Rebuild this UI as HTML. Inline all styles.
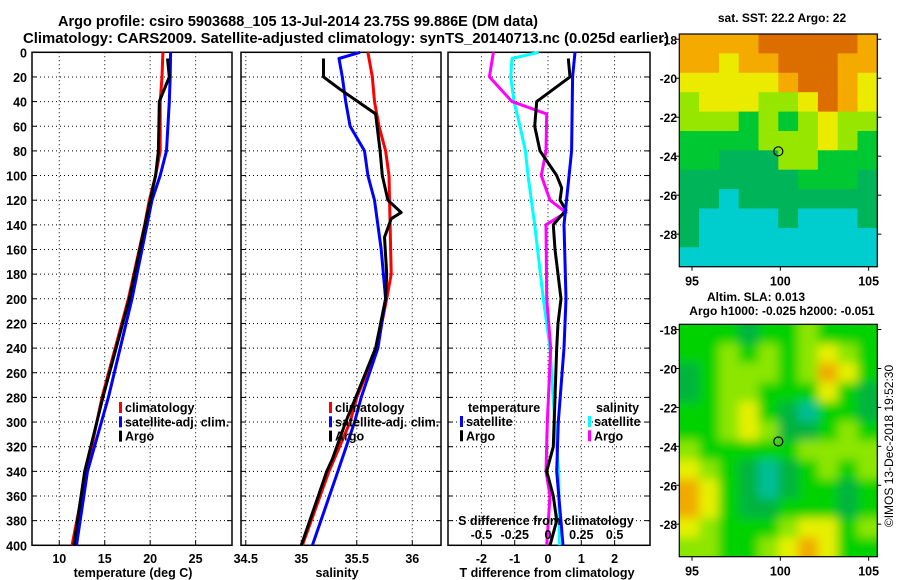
<!DOCTYPE html>
<html><head><meta charset="utf-8"><style>
html,body{margin:0;padding:0;background:#fff;}
svg{display:block;font-family:"Liberation Sans",sans-serif;font-weight:bold;}
</style></head><body>
<svg id="chart" width="900" height="580" viewBox="0 0 900 580" xmlns="http://www.w3.org/2000/svg">
<defs>
<filter id="smooth" x="-5%" y="-5%" width="110%" height="110%"><feGaussianBlur stdDeviation="5"/></filter>
<clipPath id="slaClip"><rect x="679.3" y="324.3" width="198" height="232.4"/></clipPath>
</defs>
<rect width="900" height="580" fill="#fff"/>
<text x="298" y="26" font-size="14.5" text-anchor="middle" textLength="480" lengthAdjust="spacingAndGlyphs">Argo profile: csiro 5903688_105 13-Jul-2014 23.75S 99.886E (DM data)</text>
<text x="346" y="43" font-size="14.5" text-anchor="middle" textLength="646" lengthAdjust="spacingAndGlyphs">Climatology: CARS2009. Satellite-adjusted climatology: synTS_20140713.nc (0.025d earlier)</text>
<text x="782" y="22" font-size="12" text-anchor="middle">sat. SST: 22.2 Argo: 22</text>
<text x="756" y="301" font-size="12" text-anchor="middle">Altim. SLA: 0.013</text>
<text x="782" y="315" font-size="12" text-anchor="middle">Argo h1000: -0.025 h2000: -0.051</text>
<text transform="translate(893,446) rotate(-90)" font-size="12" font-weight="normal" text-anchor="middle">©IMOS 13-Dec-2018 19:52:30</text>
</svg>
<script>
// ---------- data ----------
const depthTicks = [0,20,40,60,80,100,120,140,160,180,200,220,240,260,280,300,320,340,360,380,400];
const tempTicks = [10,15,20,25];
const salTicks = [34.5,35,35.5,36];
const tdiffTicks = [-2,-1,0,1,2];
const sdiffTicks = [-0.5,-0.25,0,0.25,0.5];
const sdiffLabels = ["-0.5","-0.25","0","0.25","0.5"];

const tClimDepth = [0,20,40,80,100,120,140,200,280,340,400];
const tClimVal   = [21.4,21.3,21.1,21.1,20.6,19.9,19.4,17.6,14.7,13.0,11.4];
const tSatDepth  = [0,20,40,80,100,120,200,280,340,400];
const tSatVal    = [22.25,22.2,22.1,21.8,21.1,20.2,18.0,15.4,13.1,11.9];
const tArgoDepth = [5,20,40,80,100,120,200,280,340,400];
const tArgoVal   = [21.9,22.1,21.0,20.9,20.6,20.0,17.7,14.8,12.8,11.6];

const sClimDepth = [0,20,40,60,80,100,140,180,200,240,280,300,340,400];
const sClimVal   = [35.60,35.64,35.66,35.70,35.76,35.79,35.80,35.81,35.77,35.68,35.50,35.44,35.25,35.01];
const sSatDepth  = [0,5,20,40,60,80,100,120,160,200,240,280,300,340,400];
const sSatVal    = [35.53,35.34,35.37,35.40,35.44,35.57,35.60,35.66,35.72,35.76,35.69,35.54,35.48,35.33,35.10];
const sArgoDepth = [5,20,30,40,50,80,100,120,130,135,150,180,200,240,280,300,330,340,400];
const sArgoVal   = [35.20,35.20,35.35,35.51,35.67,35.71,35.73,35.78,35.90,35.81,35.75,35.77,35.76,35.67,35.49,35.40,35.28,35.23,35.00];

const dtSatDepth  = [0,20,80,140,200,240,300,340,400];
const dtSatVal    = [0.81,0.74,0.71,0.48,0.54,0.48,0.31,0.26,0.45];
const dtArgoDepth = [5,20,40,60,80,100,110,120,128,140,160,200,220,240,320,340,360,380,400];
const dtArgoVal   = [0.61,0.66,-0.34,-0.40,-0.24,0.26,0.41,0.36,0.54,0.16,0.21,0.39,0.30,0.26,0.16,-0.04,0.16,0.26,0.06];
const dsSatDepth  = [0,5,20,40,60,80,100,140,200,240,300,340,400];
const dsSatVal    = [-0.07,-0.27,-0.28,-0.255,-0.21,-0.17,-0.15,-0.10,-0.035,0.015,0.05,0.08,0.085];
const dsArgoDepth = [0,20,40,50,80,100,120,130,140,200,240,300,340,360,400];
const dsArgoVal   = [-0.41,-0.44,-0.27,-0.01,-0.015,-0.05,0.015,0.135,-0.015,-0.01,0.02,-0.005,-0.015,0.015,-0.01];

const latTicks = [-18,-20,-22,-24,-26,-28];
const lonTicks = [95,100,105];
const argoLon = 99.886, argoLat = -23.75;
const sstGrid = [
[6,6,6,6,7,7,7,7,7,6],
[6,6,5,6,6,7,7,7,6,6],
[5,5,5,5,5,6,7,7,6,5],
[4,5,5,5,4,4,5,7,6,5],
[4,4,4,3,4,3,4,5,4,4],
[3,3,3,3,4,4,4,5,4,3],
[3,3,2,2,2,4,4,3,3,3],
[2,2,2,2,2,2,3,3,3,2],
[2,2,1,2,2,2,2,2,2,2],
[2,1,1,1,1,2,1,1,1,2],
[2,1,1,1,1,1,1,1,1,1],
[1,1,1,1,1,1,1,1,1,1]];
const slaGrid = [
[3,3,3,2,3,3,4,3,3,3],
[3,3,4,3,4,3,4,5,4,3],
[2,3,4,4,4,3,4,6,5,3],
[2,3,4,4,3,3,3,5,3,2],
[3,3,4,5,3,2,1,3,3,2],
[3,3,4,5,4,2,2,3,4,3],
[4,3,3,3,3,3,4,4,4,4],
[5,4,3,2,1,2,3,4,3,4],
[6,5,3,2,1,2,3,3,2,3],
[6,5,3,2,2,3,3,3,2,3],
[5,4,3,3,3,4,5,5,3,4],
[4,4,3,3,4,5,6,5,3,3]];
const sstColors = ["#0000ff","#00cdcd","#00b45a","#00c832","#96e600","#ebeb00","#f5aa00","#dc6e00","#ff0000"];
const slaColors = ["#0000ff","#00be96","#00b43c","#00d200","#8ce600","#e6f000","#f0aa00"];

// ---------- helpers ----------
const svg = document.getElementById('chart');
const NS = 'http://www.w3.org/2000/svg';
function el(tag, attrs, parent){ const e=document.createElementNS(NS,tag); for(const k in attrs) e.setAttribute(k,attrs[k]); (parent||svg).appendChild(e); return e; }
const TOP=52.3, BOT=545.3;
const yD = d => TOP + d*(BOT-TOP)/400;

function panel(name, x0, x1, xScale, ticks, labels){
  const g = el('g',{});
  
  
  depthTicks.forEach(d=>{
    if(d>0 && d<400){ const l=el('line',{x1:x0,x2:x1,y1:yD(d),y2:yD(d),stroke:'#000','stroke-width':1,'stroke-dasharray':'1,3'},g);
      
       }
    el('line',{x1:x0,x2:x0+5,y1:yD(d),y2:yD(d),stroke:'#000'},g);
    el('line',{x1:x1-5,x2:x1,y1:yD(d),y2:yD(d),stroke:'#000'},g);
  });
  ticks.forEach((t,i)=>{
    const x=xScale(t);
    const l=el('line',{x1:x,x2:x,y1:TOP,y2:BOT,stroke:'#000','stroke-width':1,'stroke-dasharray':'1,3'},g);
    
    
    el('line',{x1:x,x2:x,y1:BOT-5,y2:BOT,stroke:'#000'},g);
    if(labels){ const t2=el('text',{x:x,y:563,'font-size':12.5,'text-anchor':'middle'},g); t2.textContent=labels[i];
      
       }
  });
  el('rect',{x:x0,y:TOP,width:x1-x0,height:BOT-TOP,fill:'none',stroke:'#000','stroke-width':1.5},g);
  return g;
}
function line(g, name, depths, vals, xs, color){
  const pts = depths.map((d,i)=>xs(vals[i]).toFixed(1)+','+yD(d).toFixed(1)).join(' ');
  const p = el('polyline',{points:pts,fill:'none',stroke:color,'stroke-width':3,'stroke-linejoin':'round'},g);
  
  
}
function txt(g,name,x,y,s,size,anchor){ const t=el('text',{x:x,y:y,'font-size':size||12,'text-anchor':anchor||'start'},g); t.textContent=s;
  
   return t; }
function legend(g,x,y,items){
  items.forEach((it,i)=>{
    const r=el('rect',{x:x,y:y+i*14.3-10,width:3,height:11,fill:it[1]},g);
    
    
    txt(g,'legend-entry',x+6,y+i*14.3,it[0],12.5);
  });
}

// y tick labels
depthTicks.forEach(d=>{ txt(svg,'y-tick-label',27,yD(d)+5,String(d),12.5,'end'); });

// panel 1 temperature
const xT = v => 32 + (v-7)*200/22;
const p1 = panel('temperature-panel',32,232,xT,tempTicks,tempTicks.map(String));
line(p1,'temp-climatology-line',tClimDepth,tClimVal,xT,'#ff0000');
line(p1,'temp-satellite-line',tSatDepth,tSatVal,xT,'#0000ff');
line(p1,'temp-argo-line',tArgoDepth,tArgoVal,xT,'#000000');
legend(p1,119,412,[['climatology','#ff0000'],['satellite-adj. clim.','#0000ff'],['Argo','#000']]);
txt(p1,'x-axis-title',133,577,'temperature (deg C)',12.5,'middle');

// panel 2 salinity
const xS = v => 241 + (v-34.457)*111;
const p2 = panel('salinity-panel',241,441,xS,salTicks,salTicks.map(String));
line(p2,'sal-climatology-line',sClimDepth,sClimVal,xS,'#ff0000');
line(p2,'sal-satellite-line',sSatDepth,sSatVal,xS,'#0000ff');
line(p2,'sal-argo-line',sArgoDepth,sArgoVal,xS,'#000000');
legend(p2,329,412,[['climatology','#ff0000'],['satellite-adj. clim.','#0000ff'],['Argo','#000']]);
txt(p2,'x-axis-title',337,577,'salinity',12.5,'middle');

// panel 3 differences
const xDT = v => 548 + v*33.3;
const xDS = v => 548 + v*133.2;
const p3 = panel('difference-panel',448,650,xDT,tdiffTicks,tdiffTicks.map(String));
line(p3,'sdiff-satellite-line',dsSatDepth,dsSatVal,xDS,'#00ffff');
line(p3,'sdiff-argo-line',dsArgoDepth,dsArgoVal,xDS,'#ff00ff');
line(p3,'tdiff-argo-line',dtArgoDepth,dtArgoVal,xDT,'#000000');
line(p3,'tdiff-satellite-line',dtSatDepth,dtSatVal,xDT,'#0000ff');
txt(p3,'legend-header-temperature',468,412,'temperature',12.5);
legend(p3,460,426,[['satellite','#0000ff'],['Argo','#000']]);
txt(p3,'legend-header-salinity',596,412,'salinity',12.5);
legend(p3,588,426,[['satellite','#00ffff'],['Argo','#ff00ff']]);
txt(p3,'s-axis-title',546,525,'S difference from climatology',12.5,'middle');
sdiffTicks.forEach((t,i)=>{ txt(p3,'s-tick-label',xDS(t),539,sdiffLabels[i],12.5,'middle'); });
txt(p3,'x-axis-title',547,577,'T difference from climatology',12.5,'middle');

// maps
const MX0=679.3, MX1=877.3, LON0=94.28, LON1=105.49;
const xLon = v => MX0 + (v-LON0)*(MX1-MX0)/(LON1-LON0);
function map(name, top, bottom, grid, colors, smooth){
  const LAT0=-17.73, LAT1=-29.67;
  const yLat = v => top + (v-LAT0)*(bottom-top)/(LAT1-LAT0);
  const g=el('g',{});
  
  
  let cg = g;
  if(smooth){
    const clip=el('g',{'clip-path':'url(#slaClip)'},g);
    el('rect',{x:MX0,y:top,width:MX1-MX0,height:bottom-top,fill:'#00c832'},clip);
    cg=el('g',{filter:'url(#smooth)'},clip);
  }
  const rows=grid.length, cols=grid[0].length, cw=(MX1-MX0)/cols, ch=(bottom-top)/rows;
  const pad = smooth?8:0;
  grid.forEach((row,r)=>row.forEach((v,c)=>{
    let x=MX0+c*cw, y=top+r*ch, w=cw+0.6, h=ch+0.6;
    if(c===0){x-=pad;w+=pad;} if(c===cols-1){w+=pad;}
    if(r===0){y-=pad;h+=pad;} if(r===rows-1){h+=pad;}
    const cell=el('rect',{x:x.toFixed(1),y:y.toFixed(1),width:w.toFixed(1),height:h.toFixed(1),fill:colors[v]},cg);
    
    
  }));
  el('rect',{x:MX0,y:top,width:MX1-MX0,height:bottom-top,fill:'none',stroke:'#000','stroke-width':1.2},g);
  latTicks.forEach(t=>{ const y=yLat(t);
    el('line',{x1:MX0-4,x2:MX0,y1:y,y2:y,stroke:'#000'},g);
    el('line',{x1:MX1,x2:MX1+4,y1:y,y2:y,stroke:'#000'},g);
    txt(g,'lat-tick-label',677,y+5,String(t),12,'end'); });
  lonTicks.forEach(t=>{ const x=xLon(t);
    el('line',{x1:x,x2:x,y1:bottom,y2:bottom+4,stroke:'#000'},g);
    txt(g,'lon-tick-label',x,bottom+19,String(t),12.5,'middle'); });
  const c=el('circle',{cx:xLon(argoLon),cy:yLat(argoLat),r:4.5,fill:'none',stroke:'#000','stroke-width':1.2},g);
  
  
}
map('sst-map',34,266.7,sstGrid,sstColors,false);
map('sla-map',324.3,556.7,slaGrid,slaColors,true);
</script>
</body></html>
